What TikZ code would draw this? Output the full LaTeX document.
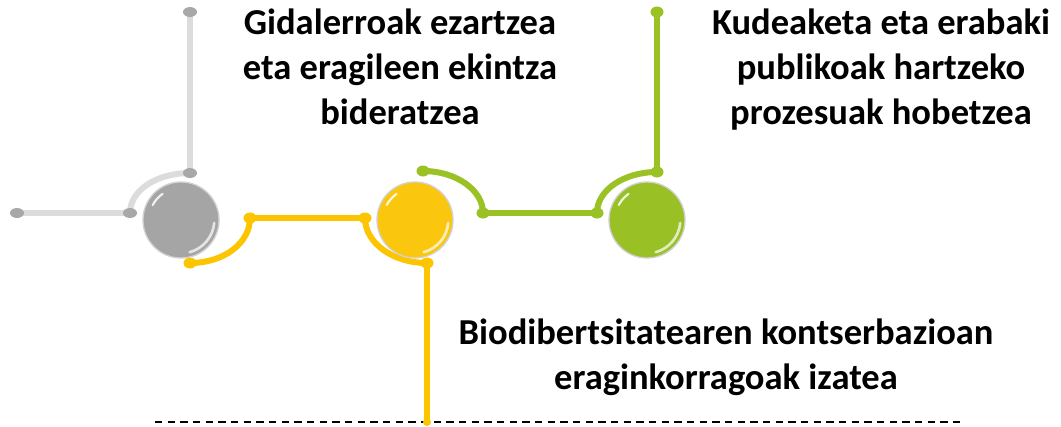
\documentclass[tikz,border=0pt]{standalone}
\usepackage{fontspec}
\setmainfont{Carlito}
\usetikzlibrary{calc}
\begin{document}
\begin{tikzpicture}[x=0.75pt,y=-0.75pt,
  glight/.style={draw=graylight,line width=4.5pt,line cap=butt},
  yline/.style={draw=ylw,line width=4.5pt},
  gline/.style={draw=grn,line width=4.5pt},
  gdot/.style={fill=graydot,draw=none},
  ydot/.style={fill=ylw,draw=none},
  grdot/.style={fill=grn,draw=none},
  ball/.style={circle,minimum size=57pt,inner sep=0pt,draw=black!18,line width=1pt},
  hl/.style={draw=white,line cap=round},
  lbl/.style={font=\bfseries\fontsize{27.4pt}{33.5pt}\selectfont,align=center,inner sep=0pt,anchor=north,text=black}]
\definecolor{graylight}{HTML}{DCDCDC}
\definecolor{graydot}{HTML}{A8A8A8}
\definecolor{grayball}{HTML}{A5A5A5}
\definecolor{ylw}{HTML}{FCC500}
\definecolor{ylwball}{HTML}{FBC70E}
\definecolor{grn}{HTML}{9AC224}
\definecolor{grnball}{HTML}{99C025}
\useasboundingbox[fill=white] (0,0) rectangle (1061,426);

% coordinates
\coordinate (g1) at (17,213);
\coordinate (g2) at (130,213);
\coordinate (g3) at (190,173);
\coordinate (g4) at (190,12);
\coordinate (y1) at (190,263);
\coordinate (y2) at (250,218);
\coordinate (y3) at (365,218);
\coordinate (y4) at (427,263);
\coordinate (y5) at (427,422);
\coordinate (n1) at (423,171);
\coordinate (n2) at (483,213);
\coordinate (n3) at (597,213);
\coordinate (n4) at (657,172);
\coordinate (n5) at (657,12);
\coordinate (d1) at (155,422);
\coordinate (d2) at (962,422);

% dashed base line
\draw[black,line width=1.6pt,dash pattern=on 5.5pt off 4pt] (d1) -- (d2);

% gray connectors
\draw[glight] (g1) -- (g2);
\draw[glight] (g2) .. controls (130,190) and (157,173) .. (g3);
\draw[glight] (g3) -- (g4);
\foreach \p in {g1,g2,g3,g4} \fill[gdot] (\p) ellipse (7 and 5);

% yellow connectors
\draw[yline] (y1) .. controls (224,263) and (250,243) .. (y2);
\draw[yline] (y2) -- (y3);
\draw[yline] (y3) .. controls (365,243) and (393,263) .. (y4);
\draw[yline] (y4) -- (y5);
\foreach \p in {y1,y2,y3,y4} \fill[ydot] (\p) ellipse (6.5 and 5.5);
\fill[ydot] (y5) circle (4);

% green connectors
\draw[gline] (n1) .. controls (456,171) and (483,190) .. (n2);
\draw[gline] (n2) -- (n3);
\draw[gline] (n3) .. controls (597,190) and (624,172) .. (n4);
\draw[gline] (n4) -- (n5);
\foreach \p in {n1,n2,n3,n4,n5} \fill[grdot] (\p) ellipse (6.5 and 5.5);

% balls
\node[ball,fill=grayball] (b1) at (181,220) {};
\node[ball,fill=ylwball] (b2) at (415,220) {};
\node[ball,fill=grnball] (b3) at (647,220) {};
\foreach \b in {b1,b2,b3}{
  \draw[hl,line width=1.6pt,opacity=0.85] ($(\b)+(125:24pt)$) arc[start angle=125,end angle=152,radius=24pt];
  \draw[hl,line width=2pt,opacity=0.7] ($(\b)+(-75:25pt)$) arc[start angle=-75,end angle=-5,radius=25pt];
}

% labels
\node[lbl] (t1) at (400,9) {Gidalerroak ezartzea\\eta eragileen ekintza\\bideratzea};
\node[lbl] (t2) at (881,9) {Kudeaketa eta erabaki\\publikoak hartzeko\\prozesuak hobetzea};
\node[lbl] (t3) at (726,319) {Biodibertsitatearen kontserbazioan\\eraginkorragoak izatea};
\end{tikzpicture}
\end{document}
